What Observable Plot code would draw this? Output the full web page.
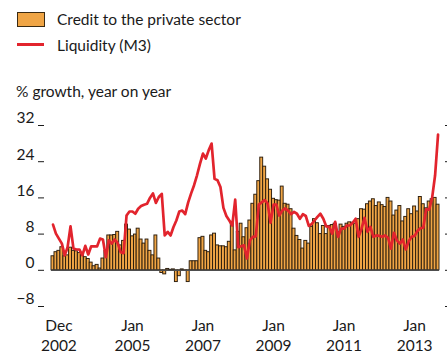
<!DOCTYPE html>
<html><head><meta charset="utf-8">
<script src="https://cdn.jsdelivr.net/npm/d3@7"></script>
<script src="https://cdn.jsdelivr.net/npm/@observablehq/plot@0.6"></script>
<style>
body{margin:0;background:#fff;}
#c{position:relative;width:447px;height:358px;font-family:Lato,sans-serif;color:#1a1a1a;overflow:hidden;}
.t{position:absolute;font-size:15.5px;line-height:16px;white-space:nowrap;}
#plot{position:absolute;left:0;top:100px;}
</style></head><body>
<div id="c">
 <div style="position:absolute;left:17px;top:12px;width:26px;height:13px;background:#f0a545;border:1px solid #3b2a12"></div>
 <div class="t" style="left:57px;top:11px">Credit to the private sector</div>
 <div style="position:absolute;left:17px;top:43px;width:27px;height:3px;background:#e2242d"></div>
 <div class="t" style="left:57px;top:37px">Liquidity (M3)</div>
 <div class="t" style="left:16px;top:83px">% growth, year on year</div>
 <div id="plot"></div>
</div>
<script>
const startMonth = [2002, 9]; // October 2002 (UTC year, month index)
const credit = [
 3.1, 4.0, 4.3, 5.1, 3.1, 3.3, 5.0, 4.3, 4.2, 3.8,
 3.4, 2.9, 2.5, 1.7, 0.9, 1.2, 0.4, 2.6, 4.3, 7.7,
 7.7, 7.8, 8.5, 5.5, 6.5, 10.1, 9.0, 7.5, 7.9, 9.2,
 6.8, 5.9, 6.8, 4.3, 3.3, 7.7, 2.6, -0.6, -0.9, 0.3,
 0.1, 0.2, -2.6, -1.3, 0.2, -0.1, -2.6, 2.0, 2.0, 2.0,
 7.1, 7.4, 4.3, 4.0, 7.7, 8.1, 5.5, 5.3, 5.3, 5.1,
 6.3, 10.7, 4.4, 8.5, 10.3, 7.3, 9.3, 11.0, 14.7, 16.7,
 19.7, 24.9, 22.9, 20.1, 17.8, 15.8, 15.5, 15.4, 18.5, 14.7,
 14.5, 13.5, 9.2, 7.6, 6.7, 4.8, 6.5, 5.9, 9.6, 11.3,
 10.4, 8.0, 9.8, 8.0, 9.8, 10.0, 10.3, 8.4, 10.1, 9.6,
 10.3, 10.6, 10.5, 10.3, 11.3, 13.5, 13.4, 14.6, 15.2, 15.7,
 14.2, 15.0, 14.4, 14.0, 16.0, 15.2, 12.1, 13.2, 14.2, 10.8,
 11.8, 13.5, 12.4, 14.1, 13.0, 16.2, 14.6, 13.7, 15.2, 15.7,
 16.0, 14.5
];
const m3 = [
 10.1, 8.1, 7.0, 5.9, 3.3, 5.1, 9.7, 4.8, 4.6, 4.6,
 3.3, 5.4, 3.5, 5.3, 5.3, 5.3, 7.0, 6.8, 2.9, 6.6,
 5.9, 6.8, 6.0, 4.0, 3.8, 12.1, 13.0, 13.0, 12.5, 13.6,
 14.2, 14.5, 14.7, 16.0, 17.0, 14.9, 16.2, 16.9, 7.7, 8.5,
 7.7, 9.5, 11.0, 13.0, 13.2, 12.4, 15.0, 17.0, 18.8, 21.0,
 23.5, 25.8, 24.7, 26.5, 28.0, 20.2, 19.9, 18.4, 13.8, 12.0,
 11.0, 9.9, 15.6, 5.1, 5.3, 5.5, 2.6, 6.6, 7.4, 7.5,
 14.5, 15.0, 15.5, 14.8, 10.5, 14.5, 14.5, 12.1, 13.2, 13.7,
 13.2, 12.4, 12.9, 12.5, 11.4, 12.4, 12.0, 9.8, 10.2, 11.0,
 11.8, 12.5, 11.4, 9.7, 9.6, 8.1, 10.7, 7.4, 9.2, 9.2,
 9.9, 9.9, 10.5, 11.4, 7.4, 9.2, 11.6, 8.5, 9.6, 7.4,
 7.7, 7.6, 7.4, 7.7, 7.2, 4.8, 8.3, 6.6, 5.9, 6.8,
 4.6, 6.4, 7.4, 7.6, 8.7, 9.3, 9.4, 13.5, 13.4, 16.0,
 21.0, 30.0
];
const xTickMonths = [[2002, 11], [2005, 0], [2007, 0], [2009, 0], [2011, 0], [2013, 0]];
const xTickLabels = ["Dec\n2002", "Jan\n2005", "Jan\n2007", "Jan\n2009", "Jan\n2011", "Jan\n2013"];
const yTicks = [-8, 0, 8, 16, 24, 32];

const start = new Date(Date.UTC(startMonth[0], startMonth[1], 1));
const end = d3.utcMonth.offset(start, credit.length);
const midOf = (d0) => new Date((+d0 + +d3.utcMonth.offset(d0, 1)) / 2);
const data = credit.map((c, i) => {
  const d0 = d3.utcMonth.offset(start, i);
  return {d0, d1: d3.utcMonth.offset(start, i + 1), mid: midOf(d0), credit: c, m3: m3[i]};
});
const xTicks = xTickMonths.map(([y, m]) => midOf(new Date(Date.UTC(y, m, 1))));
const labelMap = new Map(xTicks.map((d, i) => [+d, xTickLabels[i]]));

const chart = Plot.plot({
  width: 447, height: 258,
  marginTop: 25, marginBottom: 52, marginLeft: 51, marginRight: 8,
  style: {fontFamily: "Lato, sans-serif", fontSize: "15.5px", color: "#1a1a1a", background: "transparent"},
  x: {type: "utc", domain: [start, end], label: null},
  y: {domain: [-8, 32], label: null},
  marks: [
    Plot.rect(data, {x1: "d0", x2: "d1", y1: 0, y2: "credit", fill: "#f0a545", stroke: "#2a1c0c", strokeWidth: 0.95}),
    Plot.ruleY([0], {stroke: "#4d4d4d", strokeWidth: 1.5}),
    Plot.line(data, {x: "mid", y: "m3", stroke: "#e2242d", strokeWidth: 2.7}),
    Plot.axisY(yTicks, {tickSize: 0, tickPadding: 17, dy: -7, label: null}),
    Plot.axisY(yTicks, {tickSize: 6, dx: -7, tickFormat: () => "", label: null}),
    Plot.axisY(yTicks, {anchor: "right", tickSize: 3, dx: 5, tickFormat: () => "", label: null}),
    Plot.axisX(xTicks, {tickSize: 0, tickPadding: 10, tickFormat: (d) => labelMap.get(+d), lineHeight: 1.3, label: null})
  ]
});
document.getElementById("plot").appendChild(chart);
</script>
</body></html>
